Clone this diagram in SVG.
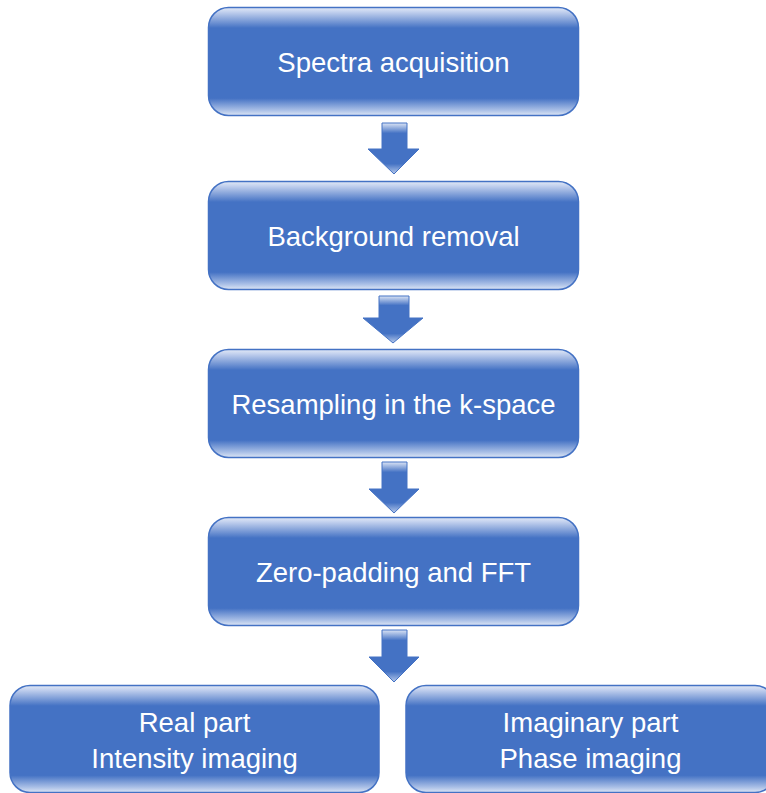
<svg xmlns="http://www.w3.org/2000/svg" width="766" height="793" viewBox="0 0 766 793">
<defs>
<linearGradient id="g" x1="0" y1="0" x2="0" y2="1">
<stop offset="0" stop-color="#e2e9f6"/>
<stop offset="0.04" stop-color="#c3d1ee"/>
<stop offset="0.19" stop-color="#4472c4"/>
<stop offset="0.84" stop-color="#4472c4"/>
<stop offset="0.95" stop-color="#a9bfe6"/>
<stop offset="1" stop-color="#dde6f5"/>
</linearGradient>
<linearGradient id="ga" x1="0" y1="0" x2="0" y2="1">
<stop offset="0" stop-color="#dbe4f5"/>
<stop offset="0.2" stop-color="#4472c4"/>
<stop offset="0.8" stop-color="#4472c4"/>
<stop offset="1" stop-color="#b7c9ea"/>
</linearGradient>
</defs>
<style>
.box{fill:url(#g);stroke:#4472c4;stroke-width:1.5}
.arr{fill:url(#ga);stroke:#4472c4;stroke-width:1}
.t{font-family:"Liberation Sans",Arial,sans-serif;font-size:27.5px;fill:#ffffff;text-anchor:middle}
</style>
<g id="connectors">
<path class="arr" d="M382,123 H407 V149 H419 L394,174 L368,149 H382 Z"/>
<path class="arr" d="M379,296 H409 V318 H423 L393,343 L363,318 H379 Z"/>
<path class="arr" d="M382,462 H407 V489 H419 L394,513 L369,489 H382 Z"/>
<path class="arr" d="M382,630 H407 V657 H419 L394,682 L369,657 H382 Z"/>
</g>
<g id="n1">
<rect class="box" x="208.5" y="7.5" width="370" height="108" rx="20"/>
<text class="t" x="393.5" y="72">Spectra acquisition</text>
</g>
<g id="n2">
<rect class="box" x="208.5" y="181.5" width="370" height="108" rx="20"/>
<text class="t" x="393.5" y="246">Background removal</text>
</g>
<g id="n3">
<rect class="box" x="208.5" y="349.5" width="370" height="108" rx="20"/>
<text class="t" x="393.5" y="414">Resampling in the k-space</text>
</g>
<g id="n4">
<rect class="box" x="208.5" y="517.5" width="370" height="108" rx="20"/>
<text class="t" x="393.5" y="582">Zero-padding and FFT</text>
</g>
<g id="n5">
<rect class="box" x="10" y="685.5" width="369" height="107" rx="20"/>
<text class="t" x="194.5" y="732">Real part</text>
<text class="t" x="194.5" y="768">Intensity imaging</text>
</g>
<g id="n6">
<rect class="box" x="406" y="685.5" width="369" height="107" rx="20"/>
<text class="t" x="590.5" y="732">Imaginary part</text>
<text class="t" x="590.5" y="768">Phase imaging</text>
</g>
</svg>
